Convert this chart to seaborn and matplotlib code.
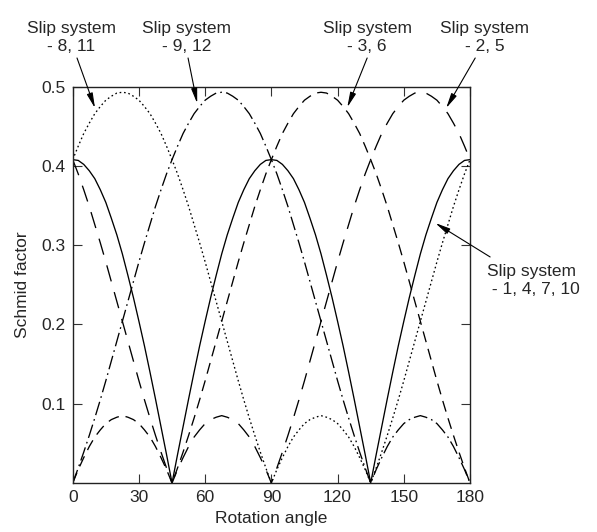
import matplotlib
matplotlib.use("Agg")
import matplotlib.pyplot as plt
import seaborn as sns
import pandas as pd

# Rotation angle (degrees) at which the Schmid factors are tabulated
angles = [i * 2.5 for i in range(73)]

# Schmid factor of each group of slip systems
sf_1_4_7_10 = [0.408, 0.407, 0.402, 0.394, 0.384, 0.370, 0.354, 0.334, 0.313, 0.289,
               0.262, 0.234, 0.204, 0.173, 0.140, 0.106, 0.071, 0.036, 0.000,
               0.036, 0.071, 0.106, 0.140, 0.173, 0.204, 0.234, 0.262, 0.289,
               0.313, 0.334, 0.354, 0.370, 0.384, 0.394, 0.402, 0.407, 0.408,
               0.407, 0.402, 0.394, 0.384, 0.370, 0.354, 0.334, 0.313, 0.289,
               0.262, 0.234, 0.204, 0.173, 0.140, 0.106, 0.071, 0.036, 0.000,
               0.036, 0.071, 0.106, 0.140, 0.173, 0.204, 0.234, 0.262, 0.289,
               0.313, 0.334, 0.354, 0.370, 0.384, 0.394, 0.402, 0.407, 0.408]
sf_8_11 = [0.408, 0.425, 0.441, 0.454, 0.466, 0.475, 0.483, 0.488, 0.492, 0.493,
           0.492, 0.488, 0.483, 0.475, 0.466, 0.454, 0.441, 0.425, 0.408,
           0.390, 0.370, 0.349, 0.326, 0.303, 0.279, 0.254, 0.229, 0.204,
           0.179, 0.154, 0.129, 0.105, 0.082, 0.060, 0.039, 0.019, 0.000,
           0.017, 0.032, 0.046, 0.058, 0.067, 0.075, 0.080, 0.083, 0.085,
           0.083, 0.080, 0.075, 0.067, 0.058, 0.046, 0.032, 0.017, 0.000,
           0.019, 0.039, 0.060, 0.082, 0.105, 0.129, 0.154, 0.179, 0.204,
           0.229, 0.254, 0.279, 0.303, 0.326, 0.349, 0.370, 0.390, 0.408]
sf_9_12 = [0.000, 0.019, 0.039, 0.060, 0.082, 0.105, 0.129, 0.154, 0.179, 0.204,
           0.229, 0.254, 0.279, 0.303, 0.326, 0.349, 0.370, 0.390, 0.408,
           0.425, 0.441, 0.454, 0.466, 0.475, 0.483, 0.488, 0.492, 0.493,
           0.492, 0.488, 0.483, 0.475, 0.466, 0.454, 0.441, 0.425, 0.408,
           0.390, 0.370, 0.349, 0.326, 0.303, 0.279, 0.254, 0.229, 0.204,
           0.179, 0.154, 0.129, 0.105, 0.082, 0.060, 0.039, 0.019, 0.000,
           0.017, 0.032, 0.046, 0.058, 0.067, 0.075, 0.080, 0.083, 0.085,
           0.083, 0.080, 0.075, 0.067, 0.058, 0.046, 0.032, 0.017, 0.000]
sf_2_5 = [0.408, 0.390, 0.370, 0.349, 0.326, 0.303, 0.279, 0.254, 0.229, 0.204,
          0.179, 0.154, 0.129, 0.105, 0.082, 0.060, 0.039, 0.019, 0.000,
          0.017, 0.032, 0.046, 0.058, 0.067, 0.075, 0.080, 0.083, 0.085,
          0.083, 0.080, 0.075, 0.067, 0.058, 0.046, 0.032, 0.017, 0.000,
          0.019, 0.039, 0.060, 0.082, 0.105, 0.129, 0.154, 0.179, 0.204,
          0.229, 0.254, 0.279, 0.303, 0.326, 0.349, 0.370, 0.390, 0.408,
          0.425, 0.441, 0.454, 0.466, 0.475, 0.483, 0.488, 0.492, 0.493,
          0.492, 0.488, 0.483, 0.475, 0.466, 0.454, 0.441, 0.425, 0.408]
sf_3_6 = [0.000, 0.017, 0.032, 0.046, 0.058, 0.067, 0.075, 0.080, 0.083, 0.085,
          0.083, 0.080, 0.075, 0.067, 0.058, 0.046, 0.032, 0.017, 0.000,
          0.019, 0.039, 0.060, 0.082, 0.105, 0.129, 0.154, 0.179, 0.204,
          0.229, 0.254, 0.279, 0.303, 0.326, 0.349, 0.370, 0.390, 0.408,
          0.425, 0.441, 0.454, 0.466, 0.475, 0.483, 0.488, 0.492, 0.493,
          0.492, 0.488, 0.483, 0.475, 0.466, 0.454, 0.441, 0.425, 0.408,
          0.390, 0.370, 0.349, 0.326, 0.303, 0.279, 0.254, 0.229, 0.204,
          0.179, 0.154, 0.129, 0.105, 0.082, 0.060, 0.039, 0.019, 0.000]

x_ticks = [0, 30, 60, 90, 120, 150, 180]
y_ticks = [0.1, 0.2, 0.3, 0.4, 0.5]

sns.set_style("ticks")
plt.rcParams["font.family"] = ["Liberation Sans", "DejaVu Sans"]
plt.rcParams["lines.scale_dashes"] = False

fig = plt.figure(figsize=(5.97, 5.32), dpi=100)
ax = fig.add_axes([0.1218, 0.0921, 0.6655, 0.7449])

series = [
    (sf_1_4_7_10, "-"),
    (sf_8_11, (0, (1.2, 2.0))),
    (sf_9_12, (0, (10.0, 3.0, 1.2, 3.0))),
    (sf_2_5, (0, (12.0, 8.0))),
    (sf_3_6, (0, (8.0, 5.0))),
]
for vals, ls in series:
    df = pd.DataFrame({"angle": angles, "schmid": vals})
    sns.lineplot(data=df, x="angle", y="schmid", ax=ax, color="black",
                 linewidth=0.95, linestyle=ls, errorbar=None, legend=False)

ax.set_xlim(0, 180)
ax.set_ylim(0, 0.5)
ax.set_xticks(x_ticks)
ax.set_yticks(y_ticks)
ax.set_yticklabels([f"{v:.1f}" for v in y_ticks])
ax.tick_params(direction="in", length=6.5, width=0.8, labelsize=12.5,
               top=True, right=True, color="#333333", pad=5)
for sp in ax.spines.values():
    sp.set_linewidth(1.0)
    sp.set_color("#222222")
ax.set_xlabel("Rotation angle", fontsize=12.5, labelpad=4)
ax.set_ylabel("Schmid factor", fontsize=12.5, labelpad=8)

arrow = dict(arrowstyle="-|>,head_width=0.18,head_length=0.9", lw=0.8,
             color="black", shrinkA=0, shrinkB=0)
labels = [
    ("Slip system\n- 8, 11", (0.119, 0.930), (10.1, 0.473), (0.129, 0.891)),
    ("Slip system\n- 9, 12", (0.312, 0.930), (56.4, 0.479), (0.315, 0.891)),
    ("Slip system\n- 3, 6", (0.615, 0.930), (124.4, 0.474), (0.615, 0.891)),
    ("Slip system\n- 2, 5", (0.812, 0.930), (169.2, 0.473), (0.796, 0.891)),
]
for text, tpos, head, tail in labels:
    fig.text(tpos[0], tpos[1], text, ha="center", va="center",
             multialignment="center", fontsize=12.5, linespacing=1.25)
    ax.annotate("", xy=head, xycoords="data", xytext=tail,
                textcoords="figure fraction", arrowprops=arrow)

fig.text(0.816, 0.472, "Slip system\n - 1, 4, 7, 10", ha="left", va="center",
         multialignment="left", fontsize=12.5, linespacing=1.25)
ax.annotate("", xy=(164.3, 0.328), xycoords="data", xytext=(0.821, 0.517),
            textcoords="figure fraction", arrowprops=arrow)

fig.savefig("out.png", dpi=100)
